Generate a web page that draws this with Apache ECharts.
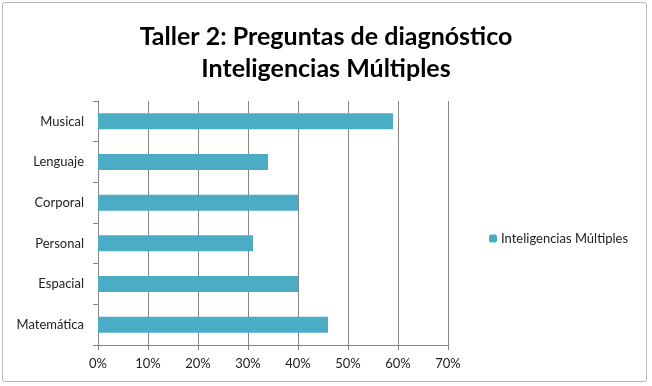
<!DOCTYPE html>
<html>
<head>
<meta charset="utf-8">
<script src="https://cdn.jsdelivr.net/npm/echarts@6/dist/echarts.min.js"></script>
<style>
  html, body { margin: 0; padding: 0; background: #fff; }
  #frame {
    position: absolute; left: 2px; top: 2px; width: 645px; height: 380px;
    border: 1px solid #b8b8b8; border-radius: 3px; box-sizing: border-box;
  }
  #main { position: absolute; left: 0; top: 0; width: 652px; height: 386px; }
</style>
</head>
<body>
<div id="frame"></div>
<div id="main"></div>
<script>
// categorias de abajo hacia arriba
const categories = ["Matemática", "Espacial", "Personal", "Corporal", "Lenguaje", "Musical"];
const values = [46, 40, 31, 40, 34, 59];
const seriesName = "Inteligencias Múltiples";
const xTicks = { min: 0, max: 70, interval: 10 };

const gray = "#868686";
const font = "Lato";
const chart = echarts.init(document.getElementById("main"));
chart.setOption({
  animation: false,
  title: {
    text: "Taller 2: Preguntas de diagnóstico\nInteligencias Múltiples",
    left: "center",
    top: 21,
    padding: 0,
    textStyle: {
      fontFamily: font,
      fontWeight: "bold",
      fontSize: 25,
      lineHeight: 32,
      color: "#000"
    }
  },
  legend: {
    left: 484,
    top: 227,
    itemWidth: 8,
    itemHeight: 8,
    itemGap: 5,
    data: [seriesName],
    textStyle: { fontFamily: font, fontSize: 13, color: "#222", padding: [0, 0, 0, -1] }
  },
  grid: { left: 98, right: 204, top: 101, bottom: 41, containLabel: false },
  xAxis: {
    type: "value",
    min: xTicks.min,
    max: xTicks.max,
    interval: xTicks.interval,
    axisLine: { show: true, lineStyle: { color: gray } },
    axisTick: { show: true, length: 5, lineStyle: { color: gray } },
    splitLine: { show: true, lineStyle: { color: gray, width: 1 } },
    axisLabel: {
      formatter: "{value}%",
      margin: 12,
      fontFamily: font,
      fontSize: 13,
      color: "#222"
    }
  },
  yAxis: {
    type: "category",
    data: categories,
    axisLine: { show: true, lineStyle: { color: gray } },
    axisTick: { show: true, length: 5, lineStyle: { color: gray } },
    axisLabel: { margin: 14, fontFamily: font, fontSize: 13, color: "#222" }
  },
  series: [{
    name: seriesName,
    type: "bar",
    data: values,
    barWidth: 16,
    itemStyle: { color: "#4BACC6" }
  }]
});
</script>
</body>
</html>
